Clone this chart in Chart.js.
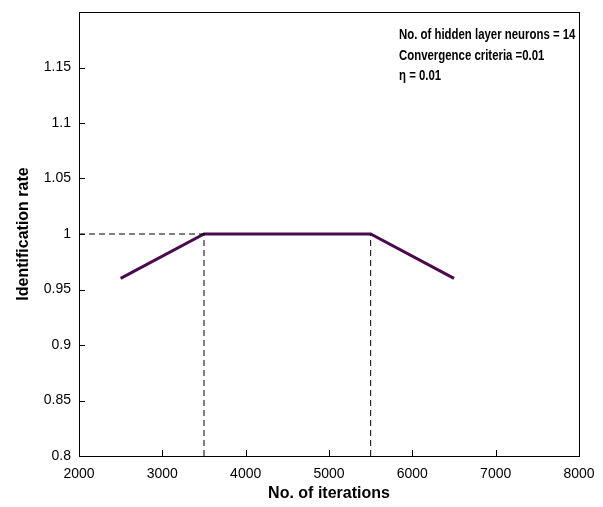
<!DOCTYPE html>
<html>
<head>
<meta charset="utf-8">
<script src="https://cdn.jsdelivr.net/npm/chart.js@4"></script>
<style>
  html, body { margin: 0; padding: 0; background: #fff; }
  #wrap { width: 603px; height: 507px; }
</style>
</head>
<body>
<div id="wrap"><canvas id="c" width="603" height="507"></canvas></div>
<script>
// Dados
const iterations = [2500, 3500, 5500, 6500];
const idRate = [0.96, 1.0, 1.0, 0.96];
const guideH = [[2000, 1.0], [3500, 1.0]];
const guideV1 = [[3500, 0.8], [3500, 1.0]];
const guideV2 = [[5500, 0.8], [5500, 1.0]];
const xTicks = [2000, 3000, 4000, 5000, 6000, 7000, 8000];
const yTicks = [0.8, 0.85, 0.9, 0.95, 1, 1.05, 1.1, 1.15, 1.2];
const notes = ['No. of hidden layer neurons = 14', 'Convergence criteria =0.01', '\u03b7 = 0.01'];

const toPts = arr => arr.map(p => ({ x: p[0], y: p[1] }));

function dashed(pts) {
    return {
        data: toPts(pts),
        showLine: true,
        borderColor: '#000',
        borderWidth: 1,
        borderDash: [6, 4],
        pointRadius: 0
    };
}

// Caixa + ticks para dentro (estilo MATLAB)
const boxPlugin = {
    id: 'box',
    afterDraw(chart) {
        const { ctx, chartArea: a, scales } = chart;
        ctx.save();
        ctx.strokeStyle = '#000';
        ctx.lineWidth = 1;
        ctx.strokeRect(a.left + 0.5, a.top + 0.5, a.right - a.left, a.bottom - a.top);
        ctx.beginPath();
        xTicks.forEach(v => {
            const px = Math.round(scales.x.getPixelForValue(v)) + 0.5;
            ctx.moveTo(px, a.bottom);
            ctx.lineTo(px, a.bottom - 6);
        });
        yTicks.forEach(v => {
            const py = Math.round(scales.y.getPixelForValue(v)) + 0.5;
            ctx.moveTo(a.left, py);
            ctx.lineTo(a.left + 6, py);
        });
        ctx.stroke();

        // Anotações (fonte estreita, como no original)
        ctx.fillStyle = '#000';
        ctx.font = 'bold 15px "Liberation Sans", Arial, sans-serif';
        ctx.textBaseline = 'middle';
        ctx.translate(a.left + 320, a.top + 23);
        ctx.scale(0.76, 1);
        notes.forEach((t, i) => ctx.fillText(t, 0, i * 20.5));
        ctx.restore();
    }
};

new Chart(document.getElementById('c'), {
    type: 'scatter',
    data: {
        datasets: [
            dashed(guideH),
            dashed(guideV1),
            dashed(guideV2),
            {
                data: iterations.map((x, i) => ({ x: x, y: idRate[i] })),
                showLine: true,
                borderColor: '#4a0a4c',
                borderWidth: 3,
                pointRadius: 0
            }
        ]
    },
    options: {
        responsive: false,
        animation: false,
        layout: { padding: { top: 12, right: 24, left: 0, bottom: 0 } },
        plugins: { legend: { display: false }, tooltip: { enabled: false } },
        scales: {
            x: {
                type: 'linear',
                min: 2000,
                max: 8000,
                afterBuildTicks: s => { s.ticks = xTicks.map(v => ({ value: v })); },
                afterFit: s => { s.height = 51; },
                grid: { display: false },
                border: { display: false },
                ticks: {
                    color: '#000',
                    padding: 2,
                    maxRotation: 0,
                    font: { family: '"Liberation Sans", Arial, sans-serif', size: 14 },
                    callback: v => String(v)
                },
                title: {
                    display: true,
                    text: 'No. of iterations',
                    color: '#000',
                    padding: { top: 4 },
                    font: { family: '"Liberation Sans", Arial, sans-serif', size: 16, weight: 'bold' }
                }
            },
            y: {
                type: 'linear',
                min: 0.8,
                max: 1.2,
                afterBuildTicks: s => { s.ticks = yTicks.map(v => ({ value: v })); },
                afterFit: s => { s.width = 79; },
                grid: { display: false },
                border: { display: false },
                ticks: {
                    color: '#000',
                    padding: 0,
                    font: { family: '"Liberation Sans", Arial, sans-serif', size: 14 },
                    callback: v => (v >= 1.19 ? '' : String(+v.toFixed(2)))
                },
                title: {
                    display: true,
                    text: 'Identification rate',
                    color: '#000',
                    padding: { top: 14, bottom: 0 },
                    font: { family: '"Liberation Sans", Arial, sans-serif', size: 16, weight: 'bold' }
                }
            }
        }
    },
    plugins: [boxPlugin]
});
</script>
</body>
</html>
